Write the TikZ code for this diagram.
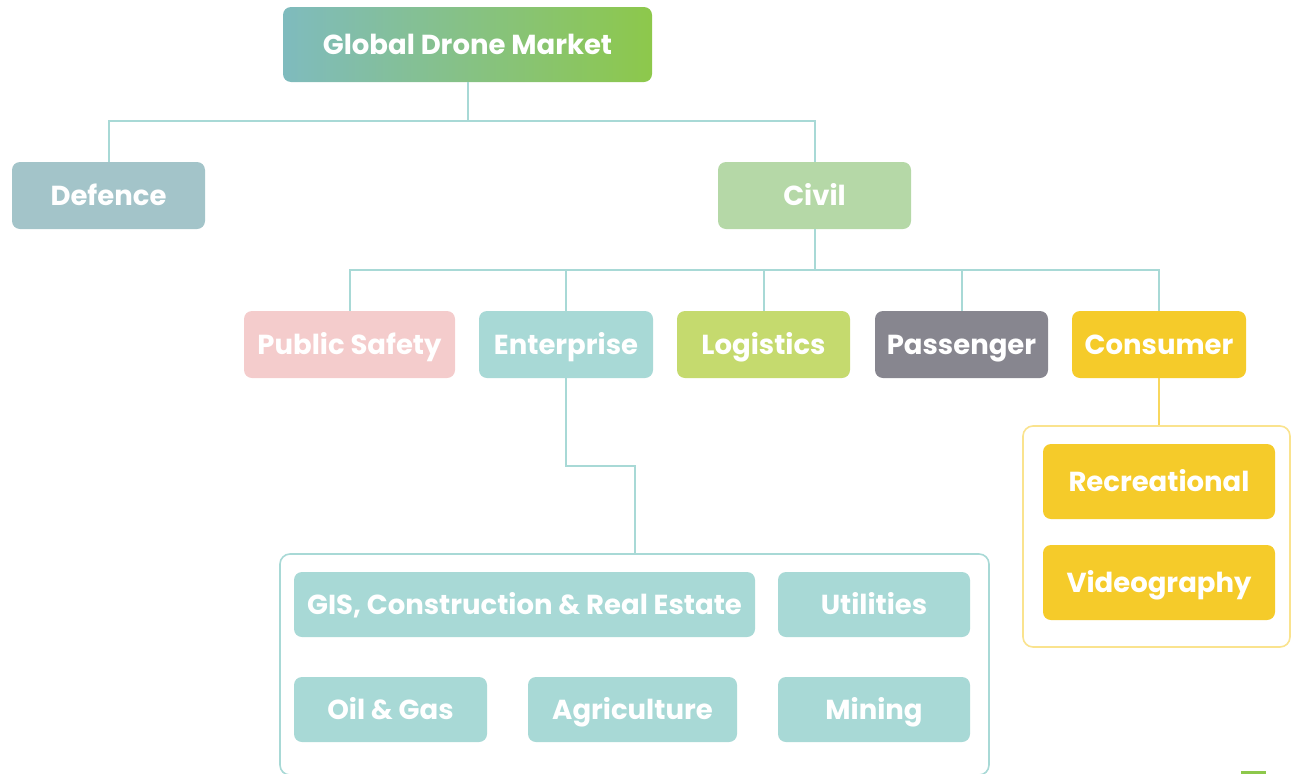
\documentclass[tikz,border=0pt]{standalone}
\usepackage{fontspec}
\setmainfont{Poppins}
\usetikzlibrary{positioning,calc}
\definecolor{cteal}{HTML}{A8D9D6}
\definecolor{cdef}{HTML}{A3C4C9}
\definecolor{cciv}{HTML}{B5D8A7}
\definecolor{cps}{HTML}{F4CCCC}
\definecolor{clog}{HTML}{C5DA6E}
\definecolor{cpas}{HTML}{87868F}
\definecolor{ccon}{HTML}{F5CB2A}
\definecolor{cconline}{HTML}{F8D75E}
\definecolor{cgl}{HTML}{7FBBBE}
\definecolor{cgr}{HTML}{8DC84B}
\tikzset{
  box/.style={rounded corners=8pt, text=white, font=\fontsize{27.5}{32}\selectfont\bfseries, inner sep=0pt, text height=19.5pt, text depth=0pt, anchor=center},
  conn/.style={draw=cteal, line width=2pt},
  yconn/.style={draw=cconline, line width=2pt},
  grp/.style={rounded corners=10pt, line width=1.6pt, fill=white, inner sep=0pt}
}
\begin{document}
\begin{tikzpicture}[x=1pt,y=-1pt]
\useasboundingbox (0,0) rectangle (1291,774);
\clip (0,0) rectangle (1291,774);
% top
\node[box, left color=cgl, right color=cgr, minimum width=369pt, minimum height=75pt] (top) at (467.5,44.5) {Global Drone Market};
\node[box, fill=cdef, minimum width=193pt, minimum height=67pt] (def) at (108.5,195.5) {Defence};
\node[box, fill=cciv, minimum width=193pt, minimum height=67pt] (civ) at (814.5,195.5) {Civil};
% second level
\node[box, fill=cps, minimum width=211pt, minimum height=67pt] (ps) at (349.5,344.5) {Public Safety};
\node[box, fill=cteal, minimum width=174pt, minimum height=67pt] (ent) at (566,344.5) {Enterprise};
\node[box, fill=clog, minimum width=173pt, minimum height=67pt] (log) at (763.5,344.5) {Logistics};
\node[box, fill=cpas, minimum width=173pt, minimum height=67pt] (pas) at (961.5,344.5) {Passenger};
\node[box, fill=ccon, minimum width=174pt, minimum height=67pt] (con) at (1159,344.5) {Consumer};
% groups
\node[grp, draw=cteal, minimum width=709pt, minimum height=221pt] (egrp) at (634.5,664.5) {};
\node[grp, draw=cconline!70, minimum width=267pt, minimum height=221pt] (cgrp) at (1156.5,536.5) {};
% enterprise children
\node[box, fill=cteal, minimum width=461pt, minimum height=65pt] (gis) at (524.5,604.5) {GIS, Construction \& Real Estate};
\node[box, fill=cteal, minimum width=192pt, minimum height=65pt] (uti) at (874,604.5) {Utilities};
\node[box, fill=cteal, minimum width=193pt, minimum height=65pt] (oil) at (390.5,709.5) {Oil \& Gas};
\node[box, fill=cteal, minimum width=209pt, minimum height=65pt] (agr) at (632.5,709.5) {Agriculture};
\node[box, fill=cteal, minimum width=192pt, minimum height=65pt] (min) at (874,709.5) {Mining};
% consumer children
\node[box, fill=ccon, minimum width=232pt, minimum height=75pt] (rec) at (1159,481.5) {Recreational};
\node[box, fill=ccon, minimum width=232pt, minimum height=75pt] (vid) at (1159,582.5) {Videography};
% connectors
\draw[conn] (top.south) -- ++(0,39) coordinate (j1);
\draw[conn] (j1) -| (def.north);
\draw[conn] (j1) -| (civ.north);
\draw[conn] (civ.south) -- ++(0,41) coordinate (j2);
\draw[conn] (j2) -| (ps.north);
\draw[conn] (j2) -| (ent.north);
\draw[conn] (j2) -| (log.north);
\draw[conn] (j2) -| (pas.north);
\draw[conn] (j2) -| (con.north);
\draw[conn] (ent.south) -- ++(0,88) -| (egrp.north);
\draw[yconn] (con.south) -- (con.south |- cgrp.north);
% corner mark
\fill[cgr] (1241,771) rectangle (1266,776);
\end{tikzpicture}
\end{document}
